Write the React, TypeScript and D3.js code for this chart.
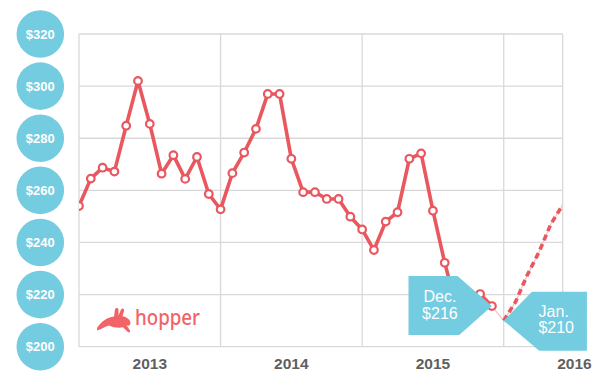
import React from "react";
import * as d3 from "d3";

const W = 598;
const H = 382;

const yTicks = [200, 220, 240, 260, 280, 300, 320];
const yearLabels = ["2013", "2014", "2015", "2016"];
// monthly prices Jan 2013 .. Dec 2015
const prices2013 = [254, 264.5, 268.7, 267.2, 284.8, 302, 285.5, 266.4, 273.5, 264.4, 272.8, 258.6];
const prices2014 = [252.7, 266.6, 274.5, 283.6, 297, 297, 272.1, 259.3, 259.3, 256.7, 256.7, 249.9];
const prices2015 = [245, 237.1, 248, 251.6, 272.1, 274.2, 252.2, 232.2, 215, 218, 220.2, 215.6];
// forecast Jan 2016 .. Jun 2016
const forecast2016 = [210, 217.2, 227.5, 236.4, 247.1, 254.4];
const callouts = [
  { label: "Dec.", value: "$216", month: 35 },
  { label: "Jan.", value: "$210", month: 36 },
];

const RED = "#E9575F";
const BLUE = "#74CCE0";
const GRID = "#d9d9d9";

export default function App() {
  const left = 79, right = 562.7, top = 34, bottom = 346.7;
  const x = d3.scaleLinear().domain([0, 41]).range([left, right]);
  const y = d3.scaleLinear().domain([200, 320]).range([bottom, top]);

  const hist = [...prices2013, ...prices2014, ...prices2015].map((v, i) => ({ i, v }));
  const fc = forecast2016.map((v, k) => ({ i: 36 + k, v }));
  const line = d3.line<{ i: number; v: number }>().x((d) => x(d.i)).y((d) => y(d.v));

  const bridge = [hist[hist.length - 1], ...fc];
  const valueAt = (m: number) => (m < 36 ? hist[m].v : fc[m - 36].v);

  const dec = { px: x(callouts[0].month), py: y(valueAt(callouts[0].month)) };
  const jan = { px: x(callouts[1].month), py: y(valueAt(callouts[1].month)) };

  const decPoly = [
    [dec.px - 83.4, dec.py - 30],
    [dec.px - 34.4, dec.py - 30],
    [dec.px, dec.py],
    [dec.px - 32.7, dec.py + 29],
    [dec.px - 83.4, dec.py + 29],
  ];
  const janPoly = [
    [jan.px, jan.py],
    [jan.px + 28.2, jan.py - 29],
    [jan.px + 83.2, jan.py - 29],
    [jan.px + 83.2, jan.py + 30],
    [jan.px + 35.5, jan.py + 30],
  ];
  const pts = (p: number[][]) => p.map((q) => q.join(",")).join(" ");

  const font = "'Liberation Sans', Arial, sans-serif";

  return (
    <div style={{ position: "fixed", left: 0, top: 0 }}>
      <svg width={W} height={H} style={{ display: "block", background: "#fff" }}>
        <defs>
          <clipPath id="plot">
            <rect x={left} y={top - 10} width={right - left} height={bottom - top + 20} />
          </clipPath>
        </defs>
        {/* grid */}
        {yTicks.map((t) => (
          <line key={t} x1={left} x2={right} y1={y(t)} y2={y(t)} stroke={GRID} strokeWidth={1.3} />
        ))}
        {[0, 12, 24, 36, 41].map((m) => (
          <line key={m} x1={x(m)} x2={x(m)} y1={top} y2={bottom} stroke={GRID} strokeWidth={1.3} />
        ))}

        {/* y axis circles */}
        {yTicks.map((t) => (
          <g key={t}>
            <circle cx={40.3} cy={y(t)} r={23.8} fill={BLUE} />
            <text x={40.3} y={y(t)} dy="0.36em" textAnchor="middle" fill="#fff" fontFamily={font} fontWeight="bold" fontSize={13}>
              ${t}
            </text>
          </g>
        ))}

        {/* year labels */}
        {yearLabels.map((lab, k) => (
          <text key={lab} x={x(6 + 12 * k)} y={363.5} dy="0.36em" textAnchor="middle" fill="#5f5f5f" fontFamily={font} fontWeight="bold" fontSize={15.5}>
            {lab}
          </text>
        ))}

        {/* hopper logo */}
        <g transform="translate(97,308)" fill="#F06468">
          <path d="M0,20 C4,14 10,9 17,8.5 L18,1.5 C18.5,-0.5 21.5,-0.5 21.5,2 L21.5,7.5 L24,1.5 C25,-0.5 28,0.5 27,3 L25.5,8.3 C30,9 33.5,12 33.5,15 C33.5,17 31.5,18.3 29.5,17.3 L33,22.5 C34,24.5 31,25 30,23.3 L26,19.3 C22,20.3 16,19.5 12,17.5 C8,18.5 4,21.5 0,22.5 Z" />
        </g>
        <text x={135} y={325} fill="#F06468" fontFamily="'Noto Sans', sans-serif" fontWeight={500} fontSize={22} textLength={65} lengthAdjust="spacingAndGlyphs">
          hopper
        </text>

        {/* lines */}
        <g clipPath="url(#plot)">
          <path d={line(bridge) || ""} fill="none" stroke="#f5c3c6" strokeWidth={1.2} />
          <path d={line(fc) || ""} fill="none" stroke={RED} strokeWidth={3.6} strokeDasharray="6,4" />
          <path d={line(hist) || ""} fill="none" stroke={RED} strokeWidth={3.6} strokeLinejoin="round" />
          {hist.map((d) => (
            <circle key={d.i} cx={x(d.i)} cy={y(d.v)} r={3.8} fill="#fff" stroke={RED} strokeWidth={2.2} />
          ))}
        </g>

        {/* callouts */}
        <polygon points={pts(decPoly)} fill={BLUE} />
        <text x={dec.px - 52} y={296.2} dy="0.36em" textAnchor="middle" fill="#fff" fontFamily={font} fontSize={16}>
          {callouts[0].label}
        </text>
        <text x={dec.px - 52} y={313.5} dy="0.36em" textAnchor="middle" fill="#fff" fontFamily={font} fontSize={16}>
          {callouts[0].value}
        </text>
        <polygon points={pts(janPoly)} fill={BLUE} />
        <text x={jan.px + 50} y={311} dy="0.36em" textAnchor="middle" fill="#fff" fontFamily={font} fontSize={16}>
          {callouts[1].label}
        </text>
        <text x={jan.px + 52.5} y={327.3} dy="0.36em" textAnchor="middle" fill="#fff" fontFamily={font} fontSize={16}>
          {callouts[1].value}
        </text>
      </svg>
    </div>
  );
}
